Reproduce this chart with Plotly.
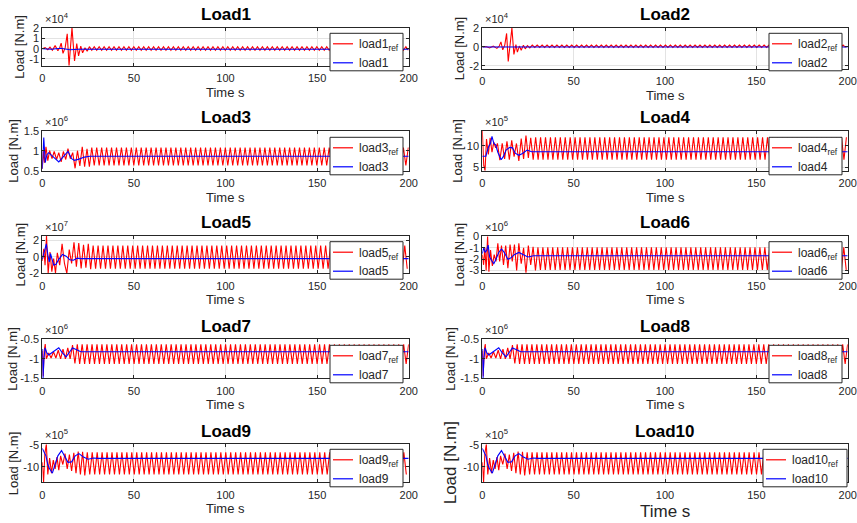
import plotly.graph_objects as go

W, H = 857, 523
T_END = 200
HALF_PERIOD = 1.35  # half of the ~2.7 s period of the steady red oscillation (read from peak spacing)

titles = ["Load1", "Load2", "Load3", "Load4", "Load5", "Load6", "Load7", "Load8", "Load9", "Load10"]
exponents = [4, 4, 6, 5, 7, 6, 6, 6, 5, 5]
x_ticks = [0, 50, 100, 150, 200]

# ---- Load1 (x1e4) ----
load1_ref_t = [0, 1.5, 3, 4.2, 5.5, 7, 8.5, 9.5, 10.3, 11.3, 12.5, 13.6, 14.6, 16.2, 17.6, 18.8, 19.8, 21.0, 22.0, 23.3, 24.5, 25.7, 27.0]
load1_ref_v = [0, 0.1, -0.1, 0.15, -0.15, 0.3, -0.2, 0.1, 0.55, -0.45, 0.1, 1.45, -1.65, 2.03, -1.2, 0.5, -0.7, 0.25, -0.4, 0.1, -0.25, 0.2, -0.15]
load1_ref_steady = [0.2, -0.15]
load1_t = [0, 5, 10, 15, 20, 200]
load1_v = [0, -0.05, 0.05, -0.1, -0.05, -0.05]

# ---- Load2 (x1e4) ----
load2_ref_t = [0, 2, 4, 6, 8, 9.3, 10.2, 11.2, 12.3, 13.3, 14.2, 15.2, 16.2, 17.3, 18.4, 19.2, 20.3, 21.3, 22.5, 23.5, 24.7, 26.0]
load2_ref_v = [0, 0.05, -0.1, 0.1, -0.15, 0.1, 0.55, -0.3, 0.2, 1.45, -1.55, 0.3, 2.03, -0.8, 0.25, -0.55, 0.1, -0.35, 0.2, -0.2, 0.15, -0.1]
load2_ref_steady = [0.2, -0.05]
load2_t = [0, 200]
load2_v = [0, 0]

# ---- Load3 (x1e6) ----
load3_ref_t = [0, 0.5, 1.2, 2, 3, 4, 5.3, 6.5, 7.8, 9, 10.3, 11.5, 12.8, 14, 15.3, 16.6, 17.9, 19.2, 20.5, 21.8, 23.1, 24.4, 25.7, 27]
load3_ref_v = [0.55, 1.0, 0.7, 1.1, 0.75, 1.0, 0.8, 0.98, 0.78, 0.95, 0.72, 0.98, 0.78, 1.05, 0.8, 0.95, 0.56, 1.0, 0.62, 1.1, 0.6, 1.05, 0.6, 1.08]
load3_ref_steady = [1.08, 0.63]
load3_t = [0, 0.8, 1.6, 2.5, 3.5, 5, 7, 9, 11.5, 14, 16, 17.5, 20, 23, 26, 200]
load3_v = [0.55, 1.33, 0.7, 0.9, 0.95, 0.88, 0.8, 0.72, 0.85, 0.98, 0.8, 0.76, 0.79, 0.84, 0.86, 0.86]

# ---- Load4 (x1e5) ----
load4_ref_t = [0, 0.8, 1.5, 2.3, 3.3, 4.3, 5.3, 6.3, 7.3, 8.3, 9.6, 10.9, 12.2, 13.5, 14.8, 16.1, 17.4, 18.7, 20, 21.3, 22.6, 23.9, 25.2, 26.5]
load4_ref_v = [13.4, 5.5, 4.3, 11.5, 8.0, 11.8, 8.5, 10.8, 9.5, 10.5, 6.7, 10.5, 7.0, 11.0, 6.8, 11.2, 7.5, 10.5, 6.5, 11.6, 7.0, 12.3, 7.2, 11.8]
load4_ref_steady = [11.9, 6.8]
load4_t = [0, 2, 2.5, 3.5, 4.5, 5.3, 6.3, 7.3, 8.5, 10.3, 11.5, 13, 15, 16.5, 18, 20, 22, 24.5, 27, 200]
load4_v = [7.6, 7.6, 8.5, 9.8, 10.5, 12.1, 10.5, 10.2, 8.5, 6.8, 7.5, 9.0, 9.6, 9.5, 8.3, 7.8, 8.2, 9.0, 8.6, 8.6]

# ---- Load5 (x1e7) ----
load5_ref_t = [0, 0.8, 1.5, 2.3, 3.2, 4.2, 5.2, 6.2, 7.2, 8.2, 9.5, 10.8, 12.1, 13.4, 14.7, 16, 17.3, 18.6, 19.9, 21.2, 22.5, 23.8, 25.1, 26.4]
load5_ref_v = [-0.5, 1.0, -1.0, 2.6, -2.0, 0.6, -1.8, -0.2, -2.0, 0.5, -1.0, 1.6, -0.8, -2.0, 0.9, -0.8, 1.8, -1.2, 1.7, -1.4, 1.5, -1.3, 1.6, -1.5]
load5_ref_steady = [1.38, -1.45]
load5_t = [0, 1, 2.2, 3, 3.8, 4.5, 5.2, 6.2, 7.5, 9, 11, 13, 15, 17, 19, 21, 200]
load5_v = [-0.3, 0.5, 1.6, 0.3, -0.6, 0.4, -0.3, -1.0, -0.9, -0.3, 0.3, 0.1, -0.35, -0.4, -0.15, -0.2, -0.2]

# ---- Load6 (x1e6) ----
load6_ref_t = [0, 0.7, 1.4, 2.1, 2.9, 3.6, 4.5, 5.5, 6.5, 7.5, 8.5, 9.5, 10.5, 11.6, 12.8, 14, 15.2, 16.4, 17.6, 18.8, 20, 21.3, 22.6, 23.9, 25.2, 26.5, 27.8, 29.1]
load6_ref_v = [-1.6, -2.5, -1.0, -3.0, 0.0, -3.1, -1.2, -2.6, -1.6, -2.2, -0.6, -2.2, -0.8, -2.5, -0.8, -2.8, -0.7, -2.2, -0.7, -3.0, -0.6, -2.4, -1.0, -3.2, -0.8, -2.5, -0.9, -3.0]
load6_ref_steady = [-0.95, -2.95]
load6_t = [0, 0.8, 1.6, 2.4, 3.2, 4, 5, 6.3, 7.5, 9, 10.5, 12, 14, 15.5, 17.5, 20, 22.5, 25, 28, 200]
load6_v = [-1.5, -1.0, -1.4, -1.2, -0.75, -1.8, -2.1, -2.4, -2.0, -1.4, -1.1, -1.4, -2.0, -1.9, -1.6, -1.4, -1.6, -1.8, -1.7, -1.7]

# ---- Load7 (x1e6) ----
load7_ref_t = [0, 0.5, 1.0, 1.6, 2.2, 3.5, 4.8, 6.1, 7.4, 8.7, 10, 11.3, 12.6, 13.9, 15.2, 16.5, 17.8, 19.1, 20.4]
load7_ref_v = [-0.8, -1.45, -0.8, -0.62, -1.0, -0.85, -0.98, -0.82, -0.98, -0.78, -1.0, -0.75, -1.0, -0.72, -1.0, -0.65, -1.12, -0.63, -1.13]
load7_ref_steady = [-0.63, -1.13]
load7_t = [0, 0.4, 0.9, 1.5, 2.5, 3.5, 5, 7, 9, 11, 13, 14.5, 16.5, 18.5, 21, 200]
load7_v = [-0.75, -1.5, -1.0, -0.72, -0.85, -0.9, -0.85, -0.78, -0.72, -0.85, -0.95, -0.85, -0.72, -0.76, -0.82, -0.82]

# ---- Load8 (x1e6) ----
load8_ref_t = [0, 0.5, 1.0, 1.6, 2.2, 3.5, 4.8, 6.1, 7.4, 8.7, 10, 11.3, 12.6, 13.9, 15.2, 16.5, 17.8, 19.1, 20.4]
load8_ref_v = [-0.8, -1.45, -0.8, -0.62, -1.0, -0.85, -0.98, -0.82, -0.98, -0.78, -1.0, -0.75, -1.0, -0.72, -1.0, -0.65, -1.12, -0.63, -1.13]
load8_ref_steady = [-0.63, -1.13]
load8_t = [0, 0.4, 0.9, 1.5, 2.5, 3.5, 5, 7, 9, 11, 13, 14.5, 16.5, 18.5, 21, 200]
load8_v = [-0.75, -1.5, -1.0, -0.72, -0.85, -0.9, -0.85, -0.78, -0.72, -0.85, -0.95, -0.85, -0.72, -0.76, -0.82, -0.82]

# ---- Load9 (x1e5) ----
load9_ref_t = [0, 0.7, 1.4, 2.2, 3, 4, 5, 6, 7, 8, 9, 10, 11.2, 12.4, 13.6, 14.8, 16, 17.2, 18.4, 19.6, 20.8, 22, 23.2]
load9_ref_v = [-9, -13.6, -7, -4.85, -11.8, -8, -11.5, -8.5, -10.5, -7.8, -10.8, -7.5, -9.5, -7, -10.5, -7.2, -11, -6.8, -11.5, -6.5, -11.8, -6.6, -12]
load9_ref_steady = [-6.7, -11.8]
load9_t = [0, 1, 2, 3, 4, 5.5, 7, 8.5, 10.5, 12, 14, 16, 18, 20, 22.5, 25, 28, 30, 200]
load9_v = [-5.8, -6.8, -7.5, -9.5, -10.5, -11.5, -9.5, -7.5, -6.3, -7.5, -9.0, -8.9, -7.5, -7.0, -7.8, -8.3, -8.0, -8.1, -8.1]

# ---- Load10 (x1e5) ----
load10_ref_t = [0, 0.7, 1.4, 2.2, 3, 4, 5, 6, 7, 8, 9, 10, 11.2, 12.4, 13.6, 14.8, 16, 17.2, 18.4, 19.6, 20.8, 22, 23.2]
load10_ref_v = [-9, -13.6, -7, -4.85, -11.8, -8, -11.5, -8.5, -10.5, -7.8, -10.8, -7.5, -9.5, -7, -10.5, -7.2, -11, -6.8, -11.5, -6.5, -11.8, -6.6, -12]
load10_ref_steady = [-6.7, -11.8]
load10_t = [0, 1, 2, 3, 4, 5.5, 7, 8.5, 10.5, 12, 14, 16, 18, 20, 22.5, 25, 28, 30, 200]
load10_v = [-5.8, -6.8, -7.5, -9.5, -10.5, -11.5, -9.5, -7.5, -6.3, -7.5, -9.0, -8.9, -7.5, -7.0, -7.8, -8.3, -8.0, -8.1, -8.1]

y_ranges = [[-1.66, 2.05], [-2.35, 2.06], [0.5, 1.5], [4.3, 13.4], [-2.0, 2.6],
            [-3.25, 0.08], [-1.5, -0.5], [-1.5, -0.5], [-13.6, -4.85], [-13.6, -4.85]]
y_ticks = [[-1, 0, 1, 2], [-2, 0, 2], [0.5, 1, 1.5], [5, 10], [-2, 0, 2],
           [-3, -2, -1, 0], [-1.5, -1, -0.5], [-1.5, -1, -0.5], [-10, -5], [-10, -5]]

ref_series = [(load1_ref_t, load1_ref_v, load1_ref_steady), (load2_ref_t, load2_ref_v, load2_ref_steady),
              (load3_ref_t, load3_ref_v, load3_ref_steady), (load4_ref_t, load4_ref_v, load4_ref_steady),
              (load5_ref_t, load5_ref_v, load5_ref_steady), (load6_ref_t, load6_ref_v, load6_ref_steady),
              (load7_ref_t, load7_ref_v, load7_ref_steady), (load8_ref_t, load8_ref_v, load8_ref_steady),
              (load9_ref_t, load9_ref_v, load9_ref_steady), (load10_ref_t, load10_ref_v, load10_ref_steady)]
act_series = [(load1_t, load1_v), (load2_t, load2_v), (load3_t, load3_v), (load4_t, load4_v), (load5_t, load5_v),
              (load6_t, load6_v), (load7_t, load7_v), (load8_t, load8_v), (load9_t, load9_v), (load10_t, load10_v)]


def with_steady(t, v, steady):
    t, v = list(t), list(v)
    hi, lo = max(steady), min(steady)
    nxt = lo if v[-1] > (hi + lo) / 2 else hi
    tt = t[-1] + HALF_PERIOD
    while tt <= T_END:
        t.append(tt)
        v.append(nxt)
        nxt = lo if nxt == hi else hi
        tt += HALF_PERIOD
    return t, v


# ---- layout geometry (pixels) ----
col_x = [(42.3, 408.7), (482.3, 847.7)]
row_tb = [(27.7, 65.7), (130.7, 170.7), (235.7, 273.3), (339.3, 378.3), (444.3, 482.3)]
legend_top = [33.3, 137.3, 241.7, 345.3, 449.3]
legend_right = [403, 842]
ylabel_x = [20, 459, 14, 458, 20, 459, 13, 451, 13, 450]

FONT = "Liberation Sans, Arial, Helvetica, sans-serif"
AX_COL = "#262626"
GRID_COL = "#e3e3e3"
RED, BLUE = "#ff0000", "#0000ff"


def fx(p):
    return p / W


def fy(p):
    return 1 - p / H


fig = go.Figure()
annotations = []
shapes = []
layout = dict(width=W, height=H, margin=dict(l=0, r=0, t=0, b=0, autoexpand=False), paper_bgcolor="white",
              plot_bgcolor="white", font=dict(family=FONT, color=AX_COL), showlegend=False,
              template="none")

for i in range(10):
    r, c = divmod(i, 2)
    n = i + 1
    xs = "" if n == 1 else str(n)
    x0, x1 = col_x[c]
    top, bot = row_tb[r]
    if n == 2:
        bot = 69.0
    big = (n == 10)

    rt, rv = with_steady(*ref_series[i])
    at, av = act_series[i]
    ref_name = "load%d<sub>ref</sub>" % n
    act_name = "load%d" % n
    fig.add_trace(go.Scatter(x=rt, y=rv, mode="lines", line=dict(color=RED, width=1.1),
                             name=ref_name, xaxis="x" + xs, yaxis="y" + xs))
    fig.add_trace(go.Scatter(x=at, y=av, mode="lines", line=dict(color=BLUE, width=1.1),
                             name=act_name, xaxis="x" + xs, yaxis="y" + xs))

    axcommon = dict(showline=True, linecolor=AX_COL, linewidth=1, mirror="ticks", ticks="inside",
                    ticklen=3, tickcolor=AX_COL, showgrid=True, gridcolor=GRID_COL, gridwidth=1,
                    zeroline=False, automargin=False, tickfont=dict(family=FONT, size=11, color=AX_COL))
    layout["xaxis" + xs] = dict(domain=[fx(x0), fx(x1)], anchor="y" + xs, range=[0, T_END],
                                tickvals=x_ticks, ticktext=[str(v) for v in x_ticks],
                                ticklabelstandoff=2, **axcommon)
    layout["yaxis" + xs] = dict(domain=[fy(bot), fy(top)], anchor="x" + xs, range=y_ranges[i],
                                tickvals=y_ticks[i], ticktext=["%g" % v for v in y_ticks[i]], **axcommon)

    # legend box (MATLAB style) drawn in the upper-right corner of each panel
    lr = 847 if big else legend_right[c]
    lw = 84 if big else 73
    lt = legend_top[r]
    ll = lr - lw
    shapes.append(dict(type="rect", xref="paper", yref="paper", x0=fx(ll), x1=fx(lr), y0=fy(lt + 37.5),
                       y1=fy(lt), fillcolor="white", line=dict(color=AX_COL, width=1), layer="above"))
    for k, (nm, col) in enumerate([(ref_name, RED), (act_name, BLUE)]):
        yy = lt + (10.5 if k == 0 else 29.5)
        shapes.append(dict(type="line", xref="paper", yref="paper", x0=fx(ll + 3), x1=fx(ll + 23),
                           y0=fy(yy), y1=fy(yy), line=dict(color=col, width=1.2), layer="above"))
        annotations.append(dict(text=nm, x=fx(ll + 27), y=fy(yy + (1.5 if k == 0 else 0)), xref="paper",
                                yref="paper", xanchor="left", yanchor="middle", showarrow=False,
                                font=dict(family=FONT, size=12, color=AX_COL)))

    cx = (x0 + x1) / 2
    annotations.append(dict(text="<b>%s</b>" % titles[i], x=fx(cx), y=fy(top - 13), xref="paper", yref="paper",
                            xanchor="center", yanchor="middle", showarrow=False,
                            font=dict(family=FONT, size=17, color="black")))
    annotations.append(dict(text="×10<sup>%d</sup>" % exponents[i], x=fx(x0 + 1), y=fy(top - 1), xref="paper",
                            yref="paper", xanchor="left", yanchor="bottom", showarrow=False,
                            font=dict(family=FONT, size=11, color=AX_COL)))
    lab_size = 17 if big else 13
    annotations.append(dict(text="Time s", x=fx(cx), y=fy(bot + (29.5 if big else 26.5)), xref="paper",
                            yref="paper", xanchor="center", yanchor="middle", showarrow=False,
                            font=dict(family=FONT, size=lab_size, color=AX_COL)))
    annotations.append(dict(text="Load [N.m]", x=fx(ylabel_x[i]), y=fy((top + bot) / 2), xref="paper",
                            yref="paper", xanchor="center", yanchor="middle", textangle=-90, showarrow=False,
                            font=dict(family=FONT, size=lab_size, color=AX_COL)))

layout["annotations"] = annotations
layout["shapes"] = shapes
fig.update_layout(**layout)
fig.write_html("out.html", config={"displayModeBar": False},
               post_script="document.body.style.margin='0px';document.body.style.overflow='hidden';")
